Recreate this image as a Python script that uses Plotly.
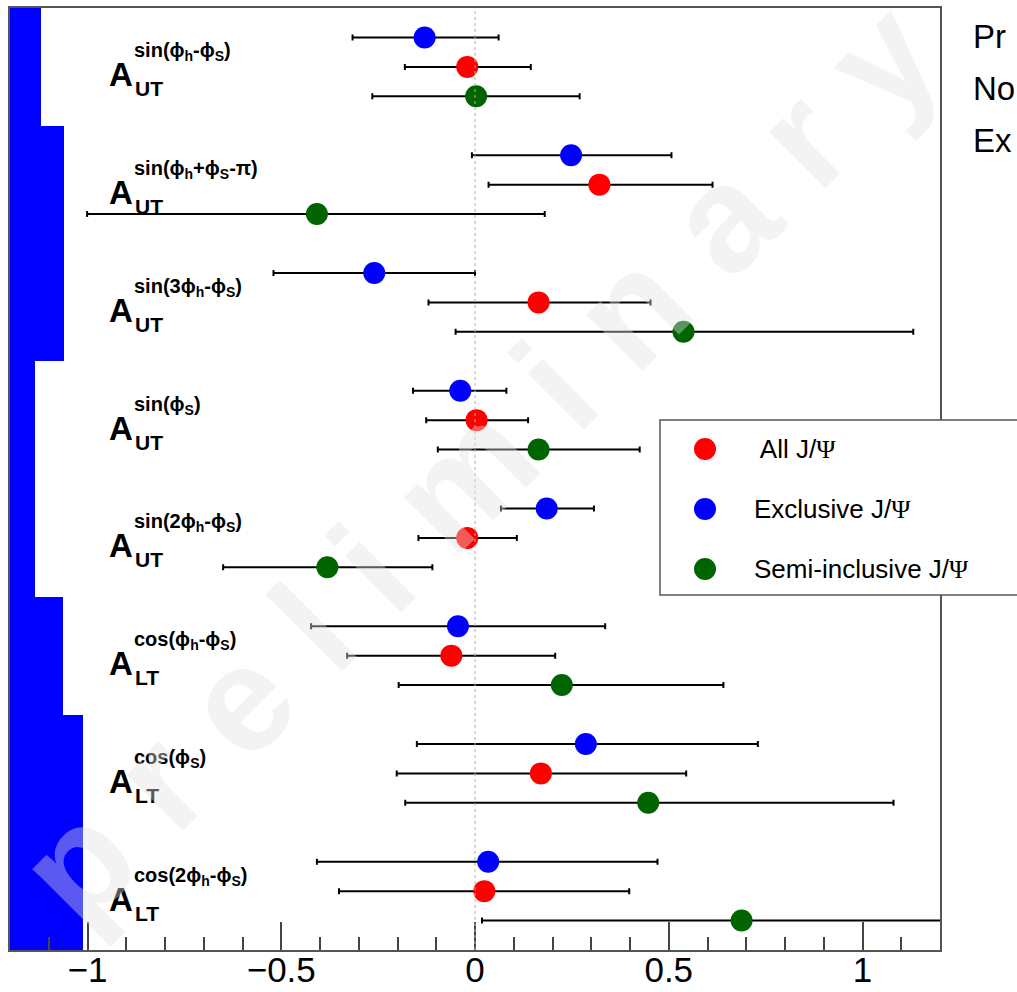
import plotly.graph_objects as go

# Asymmetry names (superscript modulation, subscript polarisation)
mod_labels = [
    "sin(ϕ<sub>h</sub>-ϕ<sub>S</sub>)",
    "sin(ϕ<sub>h</sub>+ϕ<sub>S</sub>-π)",
    "sin(3ϕ<sub>h</sub>-ϕ<sub>S</sub>)",
    "sin(ϕ<sub>S</sub>)",
    "sin(2ϕ<sub>h</sub>-ϕ<sub>S</sub>)",
    "cos(ϕ<sub>h</sub>-ϕ<sub>S</sub>)",
    "cos(ϕ<sub>S</sub>)",
    "cos(2ϕ<sub>h</sub>-ϕ<sub>S</sub>)",
]
pol_labels = ["UT", "UT", "UT", "UT", "UT", "LT", "LT", "LT"]

# All J/Psi: central value, lower and upper ends of the error bar
all_val = [-0.020, 0.321, 0.164, 0.004, -0.020, -0.061, 0.170, 0.024]
all_lo = [-0.181, 0.035, -0.120, -0.126, -0.146, -0.330, -0.202, -0.351]
all_hi = [0.144, 0.613, 0.453, 0.137, 0.108, 0.207, 0.545, 0.398]

# Exclusive J/Psi
excl_val = [-0.130, 0.248, -0.260, -0.038, 0.185, -0.044, 0.286, 0.034]
excl_lo = [-0.316, -0.008, -0.520, -0.160, 0.067, -0.423, -0.150, -0.408]
excl_hi = [0.061, 0.507, 0.000, 0.081, 0.307, 0.336, 0.730, 0.471]

# Semi-inclusive J/Psi
semi_val = [0.003, -0.408, 0.538, 0.164, -0.381, 0.224, 0.447, 0.688]
semi_lo = [-0.265, -1.001, -0.050, -0.096, -0.650, -0.197, -0.180, 0.018]
semi_hi = [0.270, 0.180, 1.131, 0.425, -0.110, 0.641, 1.080, 1.360]

# Blue filled band on the left edge, one step per asymmetry
band_edge = [-1.121, -1.061, -1.061, -1.136, -1.136, -1.063, -1.011, -1.011]

tick_vals = [-1, -0.5, 0, 0.5, 1]
tick_text = ["\u22121", "\u22120.5", "0", "0.5", "1"]

X_MIN, X_MAX = -1.2, 1.2
N = len(mod_labels)

# figure geometry (pixels)
FIG_W, FIG_H = 1017, 992
M_L, M_R, M_T, M_B = 10, 77, 8, 42
PW, PH = FIG_W - M_L - M_R, FIG_H - M_T - M_B


def px_x(px):
    return (px - M_L) / PW


def px_y(py):
    return 1 - (py - M_T) / PH


def data_x(px):
    return X_MIN + (px - M_L) / PW * (X_MAX - X_MIN)


centers = [N - 0.5 - k for k in range(N)]
FONT = "Liberation Sans, Arial, Helvetica, sans-serif"
PSI = "<span style='font-family:Liberation Serif'>Ψ</span>"

fig = go.Figure()

fig.add_trace(go.Bar(
    y=centers,
    x=[e - X_MIN for e in band_edge],
    base=X_MIN,
    orientation="h",
    width=1.0,
    marker=dict(color="#0000ff", line=dict(width=0)),
    showlegend=False,
    hoverinfo="skip",
))


def series(vals, lo, hi, offset, color, name):
    return go.Scatter(
        x=vals,
        y=[c + offset for c in centers],
        mode="markers",
        name=name,
        marker=dict(color=color, size=22, line=dict(width=0)),
        error_x=dict(
            type="data",
            symmetric=False,
            array=[h - v for h, v in zip(hi, vals)],
            arrayminus=[v - l for v, l in zip(vals, lo)],
            color="black",
            thickness=2,
            width=3,
        ),
        showlegend=False,
    )


fig.add_trace(series(excl_val, excl_lo, excl_hi, 0.25, "#0000ff", "Exclusive J/Ψ"))
fig.add_trace(series(all_val, all_lo, all_hi, 0.0, "#ff0000", "All J/Ψ"))
fig.add_trace(series(semi_val, semi_lo, semi_hi, -0.25, "#006400", "Semi-inclusive J/Ψ"))

annotations = []
shapes = []

# dotted zero line
shapes.append(dict(type="line", xref="x", yref="paper", x0=0, x1=0, y0=0, y1=1,
                   line=dict(color="#b0b0b0", width=1, dash="dot"), layer="above"))

# asymmetry labels
for c, mod, pol in zip(centers, mod_labels, pol_labels):
    annotations.append(dict(x=data_x(107), y=c, xref="x", yref="y", text="<b>A</b>",
                            showarrow=False, xanchor="left", yanchor="middle", yshift=-8,
                            font=dict(family=FONT, size=33, color="black")))
    annotations.append(dict(x=data_x(133), y=c, xref="x", yref="y", text="<b>%s</b>" % pol,
                            showarrow=False, xanchor="left", yanchor="middle", yshift=-22,
                            font=dict(family=FONT, size=21, color="black")))
    annotations.append(dict(x=data_x(132), y=c, xref="x", yref="y", text="<b>%s</b>" % mod,
                            showarrow=False, xanchor="left", yanchor="middle", yshift=15,
                            font=dict(family=FONT, size=20, color="black")))

# legend box
shapes.append(dict(type="rect", xref="paper", yref="paper",
                   x0=px_x(660), x1=px_x(1040), y0=px_y(595), y1=px_y(420),
                   line=dict(color="#555555", width=1.5), fillcolor="white", layer="above"))
legend_rows = [("#ff0000", " All J/" + PSI),
               ("#0000ff", "Exclusive J/" + PSI),
               ("#006400", "Semi-inclusive J/" + PSI)]
for i, (col, txt) in enumerate(legend_rows):
    row_y = px_y(449 + 60 * i)
    shapes.append(dict(type="circle", xref="paper", yref="paper",
                       xsizemode="pixel", ysizemode="pixel",
                       xanchor=px_x(705), yanchor=row_y,
                       x0=-11, x1=11, y0=-11, y1=11,
                       fillcolor=col, line=dict(width=0), layer="above"))
    annotations.append(dict(x=px_x(752), y=row_y, xref="paper", yref="paper", text=txt,
                            showarrow=False, xanchor="left", yanchor="middle",
                            font=dict(family=FONT, size=26, color="black")))

# side text
for py, t in [(37, "Pr"), (89, "No"), (141, "Ex")]:
    annotations.append(dict(x=px_x(971), y=px_y(py), xref="paper", yref="paper", text=t,
                            showarrow=False, xanchor="left", yanchor="middle",
                            font=dict(family=FONT, size=33, color="black")))

# watermark
annotations.append(dict(x=px_x(478), y=px_y(462), xref="paper", yref="paper",
                        text="<b>p r e l i m i n a r y</b>", textangle=-45,
                        showarrow=False, xanchor="center", yanchor="middle",
                        font=dict(family=FONT, size=150, color="rgba(225,225,225,0.4)")))

fig.update_layout(
    width=FIG_W, height=FIG_H,
    margin=dict(l=M_L, r=M_R, t=M_T, b=M_B, pad=0, autoexpand=False),
    paper_bgcolor="white", plot_bgcolor="white",
    showlegend=False,
    bargap=0,
    annotations=annotations,
    shapes=shapes,
    xaxis=dict(
        range=[X_MIN, X_MAX], tickvals=tick_vals, ticktext=tick_text,
        ticks="inside", ticklen=28, tickwidth=1.5, tickcolor="#444444",
        minor=dict(dtick=0.1, tick0=0, ticks="inside", ticklen=13, tickwidth=1.5,
                   tickcolor="#444444", showgrid=False),
        showgrid=False, zeroline=False,
        showline=True, mirror=True, linecolor="#555555", linewidth=2,
        tickfont=dict(family=FONT, size=35, color="black"),
        ticklabelstandoff=-12,
    ),
    yaxis=dict(
        range=[0, N], showticklabels=False, ticks="", showgrid=False, zeroline=False,
        showline=True, mirror=True, linecolor="#555555", linewidth=2,
    ),
)

fig.write_html("out.html")
